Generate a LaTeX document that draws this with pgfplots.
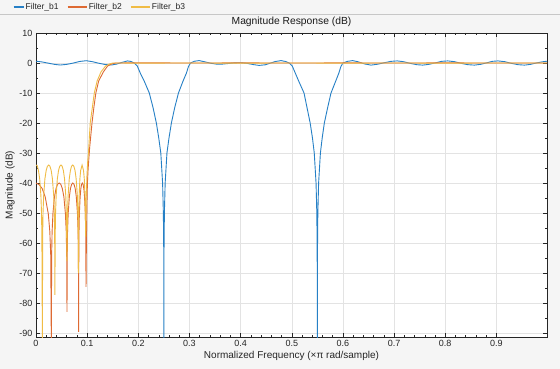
\documentclass[border=0pt]{standalone}
\usepackage{pgfplots}
\pgfplotsset{compat=1.18}
\usepackage{fontspec}
\setmainfont{Liberation Sans}
\definecolor{figbg}{HTML}{F5F5F5}
\definecolor{mblue}{HTML}{2680C6}
\definecolor{morange}{HTML}{DE6A33}
\definecolor{myellow}{HTML}{F0BC45}
\definecolor{axc}{HTML}{262626}
\definecolor{gridc}{HTML}{E3E3E3}
\pgfplotsset{
  leg1/.style={legend image code/.code={\draw[draw=mblue, line width=1.1bp] (0bp,0bp) -- (10bp,0bp);}},
  leg2/.style={legend image code/.code={\draw[draw=morange, line width=1.1bp] (0bp,0bp) -- (19bp,0bp);}},
  leg3/.style={legend image code/.code={\draw[draw=myellow, line width=1.1bp] (0bp,0bp) -- (19bp,0bp);}},
}
\begin{document}
\begin{tikzpicture}
\path[use as bounding box, fill=figbg] (0,0) rectangle (560bp,369bp);
\draw[black!22, line width=0.6bp] (0,355bp) -- (560bp,355bp);
\begin{axis}[
  at={(36bp,32bp)}, anchor=south west, scale only axis,
  width=511bp, height=304bp,
  xmin=0, xmax=0.999, ymin=-91.3, ymax=10,
  xtick={0,0.1,0.2,0.3,0.4,0.5,0.6,0.7,0.8,0.9},
  ytick={-90,-80,-70,-60,-50,-40,-30,-20,-10,0,10},
  minor x tick num=4, minor y tick num=1,
  tick align=inside, major tick length=4bp, minor tick length=2bp,
  grid=major, major grid style={gridc, line width=0.5bp},
  axis line style={axc, line width=0.5bp},
  tick style={axc, line width=0.5bp},
  axis background/.style={fill=white},
  ticklabel style={font=\fontsize{9bp}{10bp}\selectfont, text=axc},
  /pgf/number format/assume math mode=true,
  every axis title shift=0pt,
  title={Magnitude Response (dB)},
  title style={at={(axis description cs:0.5,1.036)}, anchor=center, font=\fontsize{10.3bp}{12bp}\selectfont, text=black!90, inner sep=0pt},
  xlabel={Normalized Frequency (×π rad/sample)},
  xlabel style={at={(axis description cs:0.5,-0.0625)}, anchor=center, font=\fontsize{10bp}{12bp}\selectfont, text=axc, inner sep=0pt},
  ylabel={Magnitude (dB)},
  ylabel style={at={(axis description cs:-0.0509,0.5)}, anchor=center, rotate=0, font=\fontsize{10bp}{12bp}\selectfont, text=axc, inner sep=0pt},
  legend columns=3,
  legend style={fill=none, draw=none, at={(axis description cs:-0.045,1.0855)}, anchor=west,
    font=\fontsize{8.5bp}{10bp}\selectfont, inner sep=0pt, outer sep=0pt,
    nodes={inner sep=0pt, text=axc},
    /tikz/every odd column/.append style={column sep=1.5bp},
    /tikz/every even column/.append style={column sep=8.5bp}},
]
\addplot[mblue, line width=0.9bp, leg1] coordinates {
(0,0.6) (0.012,0.35) (0.024,-0.05) (0.036,-0.45) (0.0475,-0.67) (0.06,-0.45) (0.072,-0.05) (0.085,0.5) (0.098,0.77) (0.11,0.45) (0.122,-0.05) (0.135,-0.5) (0.147,-0.67) (0.158,-0.35) (0.168,0.2) (0.179,0.7) (0.186,0.5) (0.192,0) (0.198,-1) (0.204,-3.4) (0.2115,-6) (0.2215,-10) (0.229,-15) (0.2353,-20) (0.240,-25) (0.244,-30) (0.2475,-40) (0.249,-50) (0.2497,-62) (0.25,-95) (0.2503,-62) (0.251,-50) (0.2525,-40) (0.256,-30) (0.260,-25) (0.2647,-20) (0.271,-15) (0.2785,-10) (0.2875,-6) (0.294,-3.4) (0.298,-1.2) (0.302,0) (0.31,0.6) (0.319,0.8) (0.33,0.4) (0.342,-0.1) (0.352,-0.35) (0.362,-0.4) (0.374,-0.2) (0.388,0.05) (0.40,0.1) (0.412,-0.1) (0.424,-0.5) (0.436,-0.8) (0.448,-0.6) (0.458,-0.05) (0.468,0.5) (0.479,0.8) (0.488,0.5) (0.495,0) (0.501,-1) (0.507,-3.4) (0.5135,-6) (0.524,-10) (0.530,-15) (0.536,-20) (0.5405,-25) (0.544,-30) (0.5475,-40) (0.549,-50) (0.5497,-62) (0.55,-95) (0.5503,-62) (0.551,-50) (0.5525,-40) (0.556,-30) (0.5595,-25) (0.5637,-20) (0.570,-15) (0.5767,-10) (0.586,-6) (0.592,-3.4) (0.596,-1.2) (0.600,0) (0.609,0.55) (0.619,0.8) (0.63,0.4) (0.642,-0.3) (0.655,-0.7) (0.668,-0.4) (0.681,0.1) (0.694,0.55) (0.706,0.7) (0.718,0.45) (0.731,-0.1) (0.744,-0.55) (0.756,-0.7) (0.768,-0.45) (0.781,0.05) (0.793,0.55) (0.805,0.7) (0.818,0.45) (0.831,-0.1) (0.844,-0.55) (0.857,-0.7) (0.869,-0.45) (0.881,0.05) (0.892,0.55) (0.903,0.7) (0.916,0.45) (0.929,-0.1) (0.942,-0.55) (0.955,-0.7) (0.967,-0.45) (0.979,0.05) (0.99,0.4) (0.999,0.6)
};
\addlegendentry{Filter\_b1}
\addplot[morange, line width=0.9bp, leg2] coordinates {
(0,-40) (0.006,-40.5) (0.012,-41.8) (0.018,-44.6) (0.024,-50.2) (0.027,-56.1) (0.0288,-64) (0.0300,-95) (0.0306,-64) (0.0315,-56.1) (0.0331,-50.2) (0.0361,-44.6) (0.0392,-41.8) (0.0422,-40.4) (0.0453,-40) (0.0484,-40.4) (0.0514,-41.8) (0.0545,-44.6) (0.0575,-50.2) (0.0591,-56.1) (0.0600,-64) (0.0606,-82.9) (0.0611,-64) (0.0617,-56.1) (0.0629,-50.2) (0.0652,-44.6) (0.0674,-41.8) (0.0697,-40.4) (0.0720,-40) (0.0743,-40.4) (0.0766,-41.8) (0.0788,-44.6) (0.0811,-50.2) (0.0823,-56.1) (0.0829,-64) (0.0834,-89.6) (0.0837,-64) (0.0841,-56.1) (0.0848,-50.2) (0.0863,-44.6) (0.0877,-41.8) (0.0892,-40.4) (0.0906,-40) (0.0920,-40.4) (0.0935,-41.8) (0.0949,-44.6) (0.0964,-50.2) (0.0971,-56.1) (0.0975,-64) (0.0978,-74.6) (0.0985,-60) (0.0995,-48) (0.1005,-40) (0.102,-35) (0.105,-28) (0.1095,-20) (0.113,-15) (0.117,-10) (0.1225,-6) (0.1316,-3) (0.140,-1) (0.148,-0.3) (0.156,0) (0.2,0.05) (0.3,0) (0.4,0.03) (0.5,0) (0.6,0.03) (0.7,0) (0.8,0.03) (0.9,0) (0.999,0)
};
\addlegendentry{Filter\_b2}
\addplot[myellow, line width=0.9bp, leg3] coordinates {
(0,-34) (0.0024,-34.2) (0.0048,-35.8) (0.0072,-38.6) (0.0096,-44.2) (0.0108,-50.1) (0.0115,-58) (0.0125,-95) (0.0130,-58) (0.0137,-50.1) (0.0150,-44.2) (0.0174,-38.6) (0.0199,-35.8) (0.0223,-34.4) (0.0248,-34) (0.0272,-34.4) (0.0297,-35.8) (0.0321,-38.6) (0.0346,-44.2) (0.0358,-50.1) (0.0365,-58) (0.037,-77.3) (0.0375,-58) (0.0382,-50.1) (0.0394,-44.2) (0.0417,-38.6) (0.0441,-35.8) (0.0464,-34.4) (0.0488,-34) (0.0511,-34.4) (0.0535,-35.8) (0.0558,-38.6) (0.0582,-44.2) (0.0593,-50.1) (0.0600,-58) (0.0605,-66) (0.0610,-58) (0.0616,-50.1) (0.0628,-44.2) (0.0650,-38.6) (0.0673,-35.8) (0.0695,-34.4) (0.0718,-34) (0.0740,-34.4) (0.0763,-35.8) (0.0785,-38.6) (0.0808,-44.2) (0.0819,-50.1) (0.0826,-58) (0.0830,-70) (0.0837,-50.1) (0.0844,-44.2) (0.0858,-38.6) (0.0873,-35.8) (0.0901,-34) (0.0929,-35.8) (0.0944,-38.6) (0.0958,-44.2) (0.0965,-50.1) (0.0972,-58) (0.0982,-45) (0.0995,-38) (0.101,-33) (0.1025,-30) (0.106,-20) (0.110,-15) (0.114,-10) (0.1195,-6) (0.127,-3) (0.136,-1) (0.144,-0.3) (0.15,0) (0.2,-0.03) (0.3,0) (0.4,-0.03) (0.5,0) (0.6,-0.03) (0.7,0) (0.8,-0.03) (0.9,0) (0.999,0)
};
\addlegendentry{Filter\_b3}
\end{axis}
\end{tikzpicture}
\end{document}
